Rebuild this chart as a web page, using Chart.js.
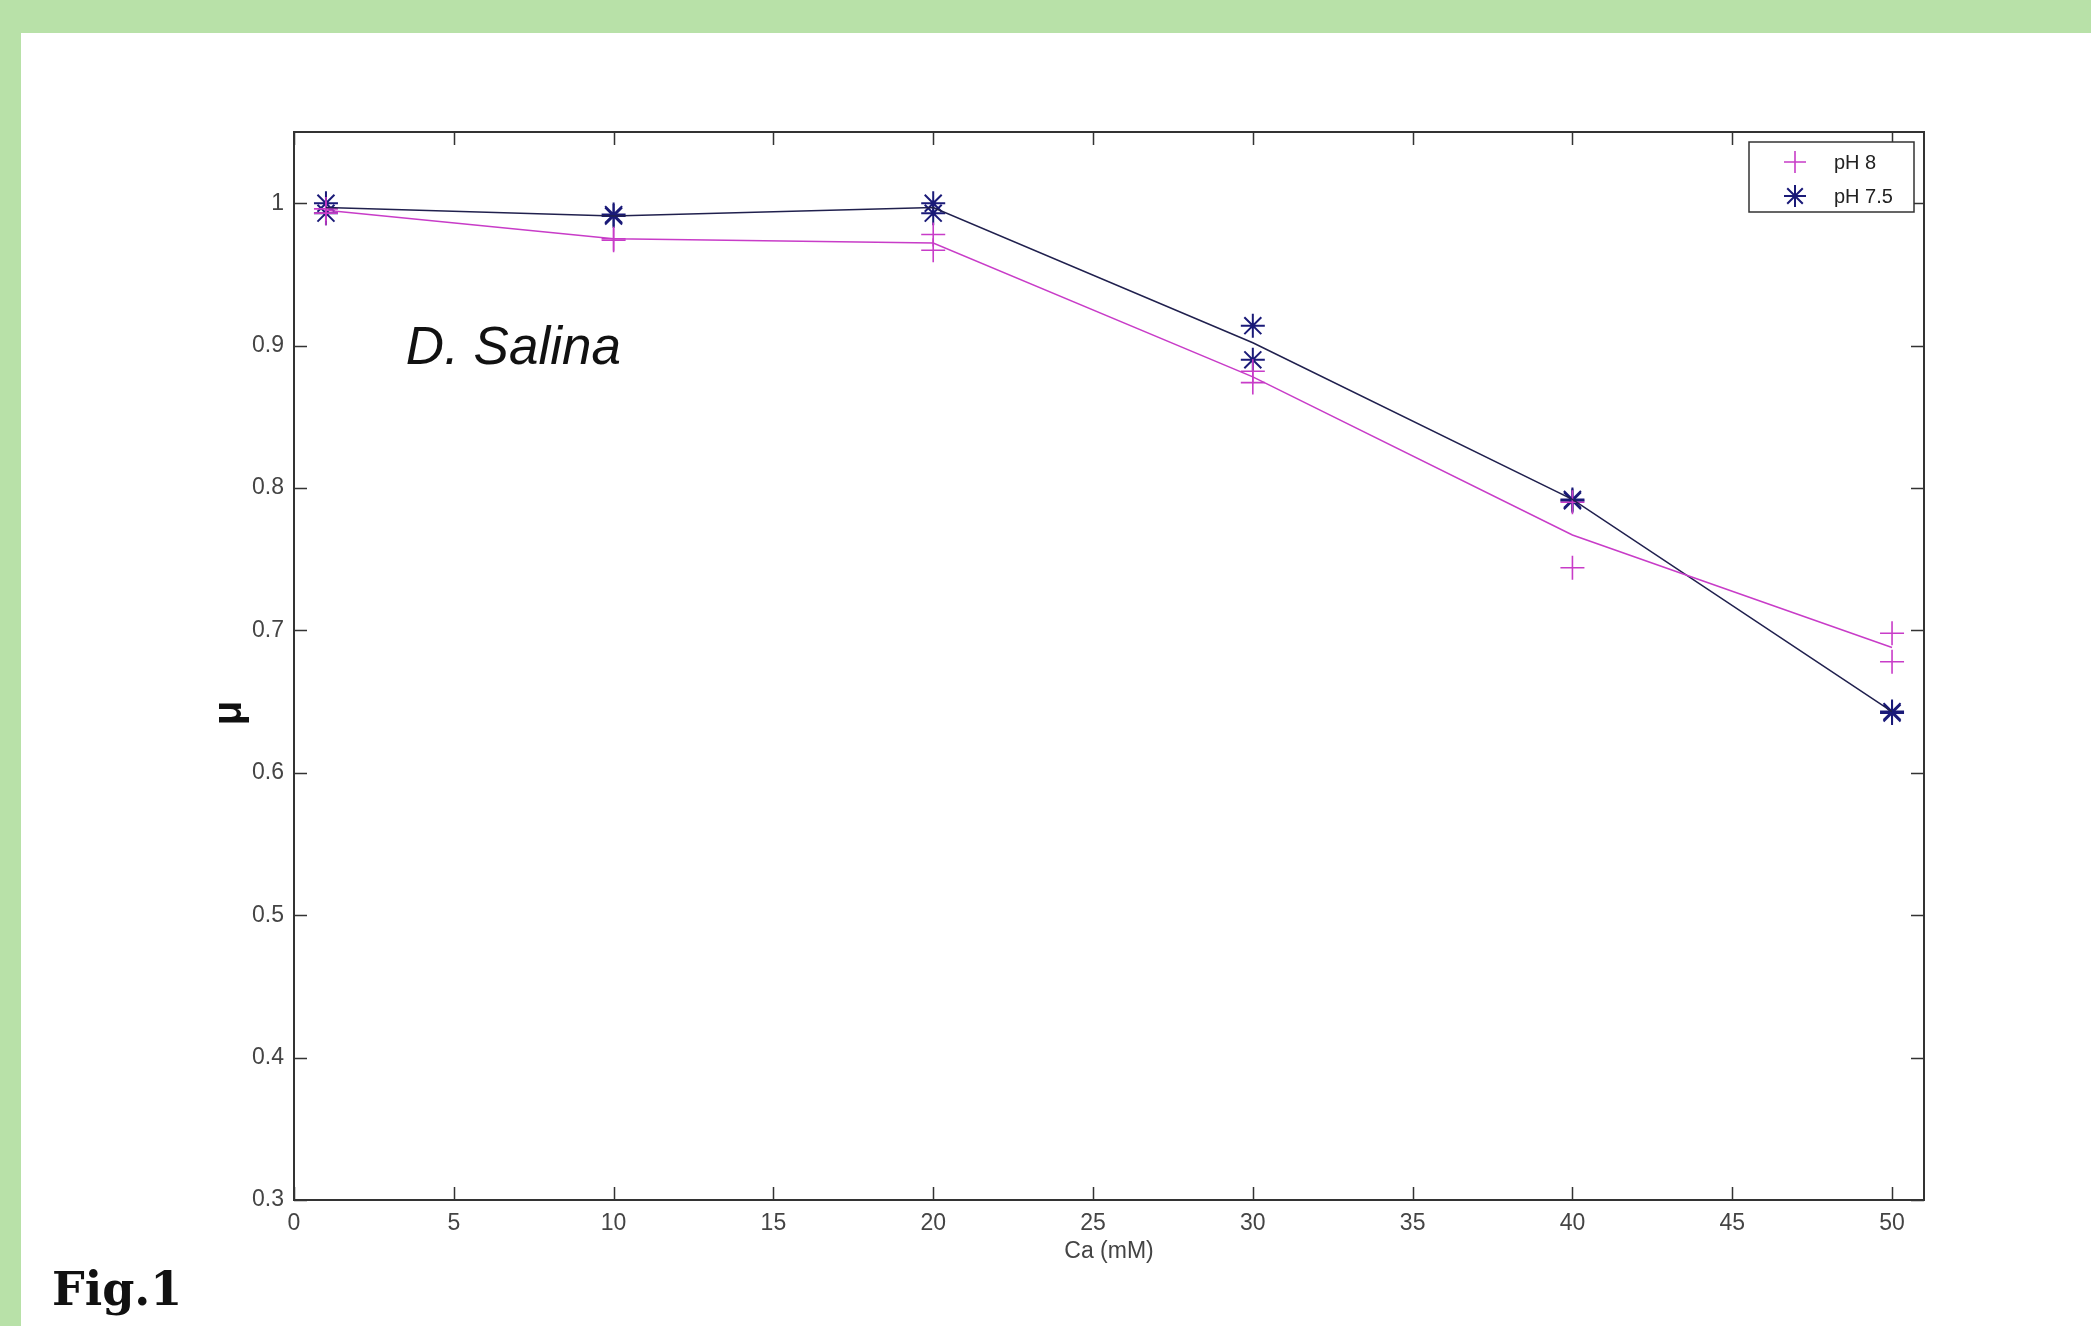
<!DOCTYPE html>
<html>
<head>
<meta charset="utf-8">
<script src="https://cdn.jsdelivr.net/npm/chart.js@4.4.0/dist/chart.umd.min.js"></script>
<style>
  html, body { margin: 0; padding: 0; }
  body { width: 2091px; height: 1326px; background: #b8e1a8; position: relative; overflow: hidden; }
  #panel { position: absolute; left: 21px; top: 33px; right: 0; bottom: 0; background: #fff; }
  #myChart { position: absolute; left: 0; top: 0; }
  #figLabel { position: absolute; left: 52px; top: 1262px; font-family: 'DejaVu Serif', serif; font-weight: bold; font-size: 46px; color: #111; }
</style>
</head>
<body>
<div id="panel"></div>
<canvas id="myChart" width="2091" height="1326"></canvas>
<div id="figLabel">Fig.1</div>
<script>
// values (Ca in mM, growth rate mu)
const caValues = [1, 10, 20, 30, 40, 50];
const ph8RunA  = [0.996, 0.975, 0.978, 0.882, 0.744, 0.698];
const ph8RunB  = [0.993, 0.974, 0.967, 0.874, 0.790, 0.678];
const ph8Line  = [0.995, 0.975, 0.972, 0.878, 0.767, 0.688];
const ph75RunA = [1.000, 0.992, 1.000, 0.914, 0.792, 0.643];
const ph75RunB = [0.993, 0.991, 0.993, 0.890, 0.791, 0.642];
const ph75Line = [0.997, 0.991, 0.997, 0.902, 0.792, 0.643];
const xTicks = [0, 5, 10, 15, 20, 25, 30, 35, 40, 45, 50];
const yTicks = [0.3, 0.4, 0.5, 0.6, 0.7, 0.8, 0.9, 1];

const pink = '#c83cc8';
const navy = '#1a1a78';
const navyLine = '#20204e';
const axisColor = '#333333';

const toPoints = (ys) => ys.map((y, i) => ({ x: caValues[i], y: y }));

function markers(label, ys, style, color, r, w) {
    return {
        label: label,
        data: toPoints(ys),
        showLine: false,
        pointStyle: style,
        pointRadius: r,
        pointBorderColor: color,
        pointBorderWidth: w,
        pointBackgroundColor: color
    };
}

function fitLine(ys, color) {
    return {
        data: toPoints(ys),
        borderColor: color,
        borderWidth: 1.5,
        pointRadius: 0,
        tension: 0
    };
}

//*****inward ticks, box, legend and text*****//
const matlabAxes = {
    id: 'matlabAxes',
    afterDraw(chart) {
        const ctx = chart.ctx;
        const a = chart.chartArea;
        const xs = chart.scales.x;
        const ys = chart.scales.y;
        const tl = 13;
        ctx.save();
        ctx.strokeStyle = axisColor;
        ctx.lineWidth = 1.5;
        ctx.beginPath();
        xs.ticks.forEach(t => {
            const px = Math.round(xs.getPixelForValue(t.value)) + 0.5;
            ctx.moveTo(px, a.bottom); ctx.lineTo(px, a.bottom - tl);
            ctx.moveTo(px, a.top); ctx.lineTo(px, a.top + tl);
        });
        ys.ticks.forEach(t => {
            const py = Math.round(ys.getPixelForValue(t.value)) + 0.5;
            ctx.moveTo(a.left, py); ctx.lineTo(a.left + tl, py);
            ctx.moveTo(a.right, py); ctx.lineTo(a.right - tl, py);
        });
        ctx.stroke();
        ctx.lineWidth = 2;
        ctx.strokeRect(a.left, a.top, a.right - a.left, a.bottom - a.top);

        // legend box
        const bw = 165, bh = 70;
        const bx = a.right - 10 - bw, by = a.top + 10;
        ctx.fillStyle = '#fff';
        ctx.fillRect(bx, by, bw, bh);
        ctx.lineWidth = 1.5;
        ctx.strokeStyle = axisColor;
        ctx.strokeRect(bx, by, bw, bh);
        const rows = [
            { text: 'pH 8', style: 'cross', color: pink, w: 1.6 },
            { text: 'pH 7.5', style: 'star', color: navy, w: 2 }
        ];
        ctx.font = '20px "Liberation Sans", Arial, sans-serif';
        ctx.textBaseline = 'middle';
        rows.forEach((r, i) => {
            const cy = by + 20 + i * 34;
            ctx.strokeStyle = r.color;
            ctx.fillStyle = r.color;
            ctx.lineWidth = r.w;
            Chart.helpers.drawPoint(ctx, { pointStyle: r.style, radius: 11, rotation: 0, borderWidth: r.w }, bx + 46, cy);
            ctx.fillStyle = '#222';
            ctx.fillText(r.text, bx + 85, cy + 1);
        });

        // species label
        ctx.fillStyle = '#111';
        ctx.font = 'italic 53px "Liberation Sans", Arial, sans-serif';
        ctx.textBaseline = 'alphabetic';
        ctx.textAlign = 'left';
        ctx.fillText('D. Salina', xs.getPixelForValue(3.5), ys.getPixelForValue(0.887));

        // y axis label
        ctx.translate(a.left - 64, (a.top + a.bottom) / 2 + 47);
        ctx.rotate(-Math.PI / 2);
        ctx.textAlign = 'center';
        ctx.textBaseline = 'middle';
        ctx.font = 'bold 40px "Liberation Sans", Arial, sans-serif';
        ctx.fillText('\u03bc', 0, 0);
        ctx.restore();
    }
};

const tickFont = { family: '"Liberation Sans", Arial, sans-serif', size: 23 };

new Chart('myChart', {
    type: 'line',
    data: {
        datasets: [
            fitLine(ph8Line, pink),
            fitLine(ph75Line, navyLine),
            markers('pH 8', ph8RunA, 'cross', pink, 12, 1.6),
            markers('pH 8', ph8RunB, 'cross', pink, 12, 1.6),
            markers('pH 7.5', ph75RunA, 'star', navy, 12, 2),
            markers('pH 7.5', ph75RunB, 'star', navy, 12, 2)
        ]
    },
    options: {
        responsive: false,
        animation: false,
        devicePixelRatio: 1,
        events: [],
        layout: { padding: { left: 0, top: 132, right: 167, bottom: 0 } },
        plugins: {
            legend: { display: false },
            tooltip: { enabled: false }
        },
        scales: {
            x: {
                type: 'linear',
                min: 0,
                max: 51,
                afterBuildTicks: (s) => { s.ticks = xTicks.map(v => ({ value: v })); },
                afterFit: (s) => { s.height = 126; },
                grid: { display: false, drawTicks: false },
                border: { display: false },
                ticks: { font: tickFont, color: '#444', padding: 10, maxRotation: 0, callback: (v) => String(v) },
                title: { display: true, text: 'Ca (mM)', color: '#444', font: tickFont, padding: { top: 4, bottom: 61 } }
            },
            y: {
                type: 'linear',
                min: 0.3,
                max: 1.05,
                afterBuildTicks: (s) => { s.ticks = yTicks.map(v => ({ value: v })); },
                afterFit: (s) => { s.width = 294; },
                grid: { display: false, drawTicks: false },
                border: { display: false },
                ticks: { font: tickFont, color: '#444', padding: 10, callback: (v) => String(v) }
            }
        }
    },
    plugins: [matlabAxes]
});
</script>
</body>
</html>
